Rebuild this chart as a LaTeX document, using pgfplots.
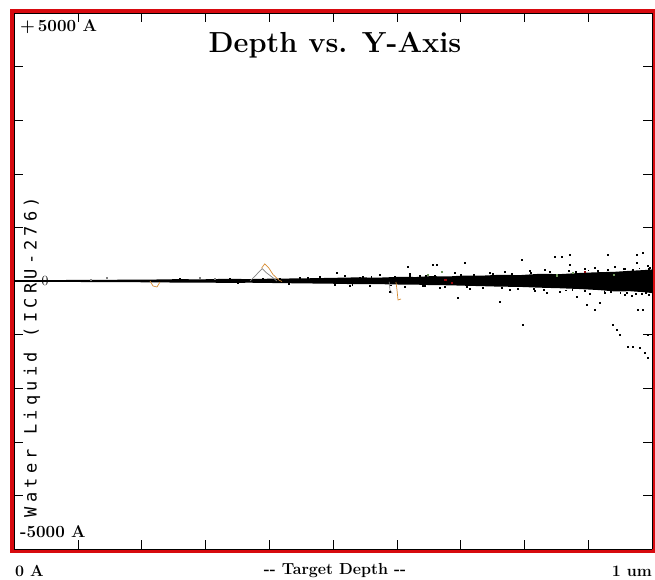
\documentclass[border=0pt]{standalone}
\usepackage{pgfplots}
\pgfplotsset{compat=1.18}
\usepackage{fontspec}
\newfontfamily\labfont[LetterSpace=25]{DejaVu Sans Mono}
\definecolor{frred}{RGB}{215,10,15}
\definecolor{trorange}{RGB}{215,140,50}
\definecolor{trgray}{RGB}{130,130,130}
\definecolor{trgreen}{RGB}{110,150,90}
\begin{document}
\begin{tikzpicture}
\path[use as bounding box] (-14pt,-30pt) rectangle (641pt,549pt);
\begin{axis}[
  at={(0pt,0pt)}, anchor=south west,
  scale only axis, width=638pt, height=536pt,
  xmin=0, xmax=10000, ymin=-5000, ymax=5000,
  scaled x ticks=false, scaled y ticks=false,
  xtick={1000,2000,...,9000}, ytick={-4000,-3000,...,4000},
  xticklabels={}, yticklabels={},
  tick align=inside, major tick length=9pt,
  tick style={black, line width=0.6pt},
  axis line style={black, line width=0.8pt},
  clip=true,
]
% dense core of the ion trajectories
\addplot[fill=black, draw=none] coordinates {
(0,15) (700,18) (1350,22) (2130,26) (2600,35) (2900,30) (3300,40) (3700,36)
(4100,45) (4480,48) (4950,58) (5400,68) (5700,62) (6050,78) (6300,74) (6520,90)
(6830,86) (7050,102) (7300,98) (7600,115) (7930,110) (8250,135) (8550,128)
(8870,150) (9180,165) (9420,172) (9650,190) (9890,205) (10000,215)
(10000,-225) (9890,-210) (9650,-190) (9420,-195) (9180,-170) (8870,-150)
(8550,-135) (8250,-125) (7930,-110) (7600,-105) (7300,-95) (7050,-88) (6830,-80)
(6520,-76) (6300,-68) (6050,-66) (5700,-58) (5400,-60) (4950,-50) (4480,-44)
(4100,-38) (3700,-32) (3300,-35) (2900,-28) (2600,-30) (2130,-24) (1350,-20)
(700,-17) (0,-15)
} -- cycle;
\addplot[black, line width=1pt] coordinates {(0,0) (10000,0)};
% scattered ion positions
\addplot[only marks, mark=square*, mark size=0.4pt, black] coordinates {
(4796,75) (5188,93) (5423,65) (5736,112) (5971,84) (6207,131) (6364,93)
(6567,299) (6630,299) (6175,261) (6912,149) (7069,336) (7461,149) (7696,168)
(7962,392) (8088,187) (8323,205) (8480,448) (8590,448) (8715,485) (8715,299)
(8950,224) (9106,243) (9311,485) (9420,261) (9577,233) (9765,485) (9765,336)
(9859,522) (9937,280) (9969,243) (5063,149) (5470,75) (4483,56) (4170,47)
(3385,47) (2600,37)
(5031,-75) (5266,-93) (5580,-84) (5893,-205) (6128,-112) (6442,-93) (6677,-131)
(6959,-317) (7147,-149) (7618,-392) (7774,-168) (7978,-821) (8166,-187)
(8354,-224) (8558,-205) (8825,-299) (8981,-448) (9106,-541) (9028,-243)
(9263,-224) (9389,-821) (9452,-914) (9499,-1008) (9624,-1232) (9702,-1232)
(9812,-1250) (9890,-1344) (9937,-1437) (9781,-541) (9859,-541) (9937,-1008)
(9577,-261) (9687,-280) (9843,-243) (9185,-411)
(8400,170) (8700,185) (9000,200) (9300,215) (9550,230) (9800,240) (9950,235)
(8300,-160) (8650,-170) (8950,-185) (9250,-205) (9500,-220) (9750,-230) (9950,-250)
(7200,120) (7500,135) (7800,140) (7350,-120) (7650,-130) (7900,-145)
(6200,95) (6600,105) (6400,-95) (6750,-105) (5900,-80)
(8100,150) (8800,175) (9150,195) (9700,215) (8150,-145) (8750,-160) (9350,-200)
(9600,-215) (9900,-225) (7000,115) (7100,-105) (6450,100) (5600,80) (5300,-72)
(4600,60) (4300,-52) (3900,45) (3500,-42)
}; 
% recoil traces
\addplot[trorange, line width=0.7pt] coordinates {(2132,0) (2179,-93) (2241,-112) (2288,-19)};
\addplot[trgray, line width=0.7pt] coordinates {(3700,0) (3800,120) (3890,230) (3960,150) (4060,60) (4120,0)};
\addplot[trorange, line width=0.7pt] coordinates {(3880,240) (3930,320) (3990,250) (4060,120) (4150,20) (4200,-10)};
\addplot[trorange, line width=0.7pt] coordinates {(5987,-19) (6003,-168) (6019,-354) (6066,-336)};
\addplot[trgray, line width=0.6pt] coordinates {(5880,-10) (5893,-168) (5930,-230)};
\addplot[only marks, mark=square*, mark size=0.5pt, trgray] coordinates {(1458,65) (2915,65) (1200,20) (3150,40)};
\addplot[only marks, mark=square*, mark size=0.6pt, trgreen] coordinates {(6489,112) (8762,149) (8500,110) (9400,120) (6700,180)};
\addplot[only marks, mark=square*, mark size=0.6pt, frred!70!black] coordinates {(8950,170) (6760,20) (6860,-30)};
\end{axis}
% red frame
\draw[frred, line width=4.5pt] (-2.2pt,-2.2pt) rectangle (640.2pt,538.2pt);
\draw[black, line width=0.8pt] (638pt,0pt) -- (638pt,536pt);
\draw[black, line width=0.8pt] (0pt,0pt) -- (638pt,0pt);
% texts
\node[font=\fontsize{29}{33}\selectfont\bfseries] at (321pt,504pt) {Depth vs. Y-Axis};
\node[anchor=west, inner sep=0pt, font=\fontsize{17}{19}\selectfont\bfseries] at (6pt,522pt) {+\,5000 A};
\node[anchor=west, inner sep=0pt, font=\fontsize{17}{19}\selectfont\bfseries] at (6pt,17pt) {-5000 A};
\node[inner sep=0pt, font=\fontsize{14}{16}\selectfont] at (31pt,268pt) {0};
\node[rotate=90, inner sep=0pt, font=\fontsize{17}{19}\selectfont\labfont] at (18pt,192pt) {Water Liquid (ICRU-276)};
\node[anchor=west, inner sep=0pt, font=\fontsize{16}{18}\selectfont\bfseries] at (1pt,-22pt) {0 A};
\node[inner sep=0pt, font=\fontsize{16}{18}\selectfont\bfseries] at (321pt,-22pt) {-{}- Target Depth -{}-};
\node[anchor=east, inner sep=0pt, font=\fontsize{16}{18}\selectfont\bfseries] at (638pt,-22pt) {1 um};
\end{tikzpicture}
\end{document}
